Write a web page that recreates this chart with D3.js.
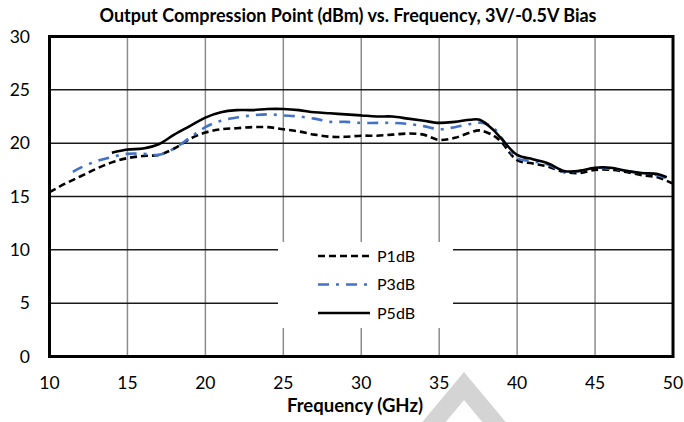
<!DOCTYPE html>
<html>
<head>
<meta charset="utf-8">
<script src="https://cdn.jsdelivr.net/npm/d3@7"></script>
<style>
  body { margin: 0; background: #fff; }
  text { font-family: Lato, "Open Sans", sans-serif; }
</style>
</head>
<body>
<div id="my_dataviz"></div>
<script>
// chart size
var width = 684,
    height = 422

// data (GHz, dBm)
var p1Freq = [10, 11, 12, 13, 14, 15, 16, 17, 18, 19, 20, 21, 22, 23, 24, 25, 26, 27, 28, 29, 30, 31, 32, 33, 34, 35, 36, 37, 37.6, 38.5, 39, 40, 41, 42, 43, 44, 45, 46, 47, 48, 49, 50]
var p1Val  = [15.4, 16.2, 16.9, 17.6, 18.2, 18.6, 18.8, 18.9, 19.5, 20.4, 21.0, 21.3, 21.4, 21.5, 21.5, 21.3, 21.1, 20.8, 20.6, 20.6, 20.7, 20.7, 20.8, 20.9, 20.8, 20.3, 20.5, 21.0, 21.2, 20.7, 20.1, 18.4, 18.1, 17.8, 17.3, 17.2, 17.5, 17.5, 17.3, 17.0, 16.8, 16.2]

var p3Freq = [11.5, 12, 13, 14, 15, 16, 17, 18, 19, 20, 21, 22, 23, 24, 25, 26, 27, 28, 29, 30, 31, 32, 33, 34, 35, 36, 37, 37.8, 38.5, 39, 40, 41, 42, 43, 44, 45, 46, 47, 48, 49, 50]
var p3Val  = [17.3, 17.7, 18.3, 18.7, 19.0, 19.0, 18.9, 19.5, 20.5, 21.5, 22.1, 22.4, 22.6, 22.7, 22.6, 22.5, 22.3, 22.0, 22.0, 21.9, 21.9, 21.9, 21.8, 21.6, 21.3, 21.5, 21.8, 21.9, 21.4, 20.5, 18.6, 18.3, 18.0, 17.3, 17.4, 17.7, 17.6, 17.4, 17.2, 17.0, 16.5]

var p5Freq = [14, 15, 16, 17, 18, 19, 20, 21, 22, 23, 24, 25, 26, 27, 28, 29, 30, 31, 32, 33, 34, 35, 36, 37, 37.6, 38.5, 39, 40, 41, 42, 43, 44, 45, 46, 47, 48, 49, 49.6]
var p5Val  = [19.1, 19.4, 19.5, 19.9, 20.8, 21.6, 22.4, 22.9, 23.1, 23.1, 23.2, 23.2, 23.1, 22.9, 22.8, 22.7, 22.6, 22.5, 22.5, 22.3, 22.1, 21.9, 22.0, 22.2, 22.2, 21.2, 20.4, 18.9, 18.5, 18.1, 17.4, 17.4, 17.7, 17.7, 17.4, 17.2, 17.1, 16.8]

var xTicks = [10, 15, 20, 25, 30, 35, 40, 45, 50]
var yTicks = [0, 5, 10, 15, 20, 25, 30]
var seriesNames = ["P1dB", "P3dB", "P5dB"]

var titleText = "Output Compression Point (dBm) vs. Frequency, 3V/-0.5V Bias"
var xTitle = "Frequency (GHz)"

var svg = d3.select("#my_dataviz")
  .append("svg")
    .attr("width", width)
    .attr("height", height)

// scales
var x = d3.scaleLinear().domain([10, 50]).range([49.5, 673])
var y = d3.scaleLinear().domain([0, 30]).range([356.5, 36.5])

// vertical grid (gray)
svg.append("g")
  .selectAll("line")
  .data(xTicks.slice(1, -1))
  .enter()
  .append("line")
    .attr("x1", function(d) { return x(d) })
    .attr("x2", function(d) { return x(d) })
    .attr("y1", y(30))
    .attr("y2", y(0))
    .attr("stroke", "#8c8c8c")
    .attr("stroke-width", 1.5)

// horizontal grid (dark)
svg.append("g")
  .selectAll("line")
  .data(yTicks.slice(1, -1))
  .enter()
  .append("line")
    .attr("x1", x(10))
    .attr("x2", x(50))
    .attr("y1", function(d) { return y(d) })
    .attr("y2", function(d) { return y(d) })
    .attr("stroke", "#1a1a1a")
    .attr("stroke-width", 1.5)

// series
var series = [
  { name: seriesNames[0], freq: p1Freq, val: p1Val, color: "#000", dash: "7,4" },
  { name: seriesNames[1], freq: p3Freq, val: p3Val, color: "#4472C4", dash: "11,7,3,7" },
  { name: seriesNames[2], freq: p5Freq, val: p5Val, color: "#000", dash: null }
]

var line = d3.line()
  .x(function(d) { return x(d[0]) })
  .y(function(d) { return y(d[1]) })
  .curve(d3.curveCatmullRom.alpha(0.5))

series.forEach(function(s) {
  svg.append("path")
    .datum(d3.zip(s.freq, s.val))
    .attr("d", line)
    .attr("fill", "none")
    .attr("stroke", s.color)
    .attr("stroke-width", 2.6)
    .attr("stroke-dasharray", s.dash)
})

// legend box
var legend = svg.append("g")
legend.append("rect")
  .attr("x", 278).attr("y", 242)
  .attr("width", 175).attr("height", 86)
  .attr("fill", "#fff")

legend.selectAll("line")
  .data(series)
  .enter()
  .append("line")
    .attr("x1", 318).attr("x2", 370)
    .attr("y1", function(d, i) { return 256 + i * 28.5 })
    .attr("y2", function(d, i) { return 256 + i * 28.5 })
    .attr("stroke", function(d) { return d.color })
    .attr("stroke-width", 2.6)
    .attr("stroke-dasharray", function(d) { return d.dash })

legend.selectAll("text")
  .data(series)
  .enter()
  .append("text")
    .attr("x", 377)
    .attr("y", function(d, i) { return 256 + i * 28.5 })
    .attr("dy", "0.35em")
    .style("font-size", "16px")
    .text(function(d) { return d.name })

// plot border
svg.append("rect")
  .attr("x", x(10)).attr("y", y(30))
  .attr("width", x(50) - x(10))
  .attr("height", y(0) - y(30))
  .attr("fill", "none")
  .attr("stroke", "#000")
  .attr("stroke-width", 3)

// watermark chevron
svg.append("path")
  .attr("d", "M419,440 L464,386 L509,440")
  .attr("fill", "none")
  .attr("stroke", "#d4d4d4")
  .attr("stroke-width", 18)
  .attr("stroke-linejoin", "miter")

// tick labels
svg.append("g")
  .selectAll("text")
  .data(yTicks)
  .enter()
  .append("text")
    .attr("x", 30)
    .attr("y", function(d) { return y(d) })
    .attr("dy", "0.36em")
    .attr("text-anchor", "end")
    .style("font-size", "17.5px")
    .text(function(d) { return d })

svg.append("g")
  .selectAll("text")
  .data(xTicks)
  .enter()
  .append("text")
    .attr("x", function(d) { return x(d) })
    .attr("y", 389)
    .attr("text-anchor", "middle")
    .style("font-size", "17.5px")
    .text(function(d) { return d })

// titles
svg.append("text")
  .attr("x", 348)
  .attr("y", 22)
  .attr("text-anchor", "middle")
  .style("font-size", "18px")
  .style("font-weight", "bold")
  .text(titleText)

svg.append("text")
  .attr("x", 355)
  .attr("y", 412)
  .attr("text-anchor", "middle")
  .style("font-size", "18.5px")
  .style("font-weight", "bold")
  .text(xTitle)
</script>
</body>
</html>
